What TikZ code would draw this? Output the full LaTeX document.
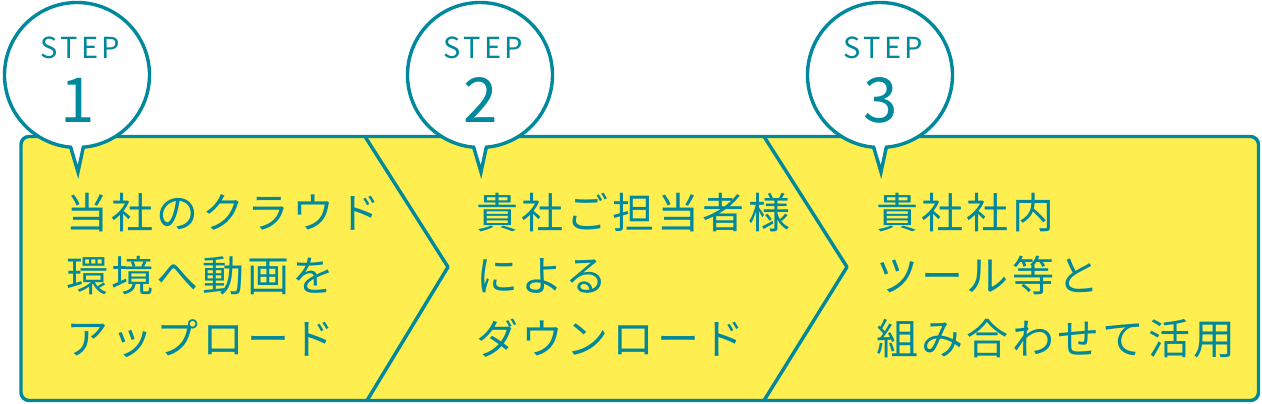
\documentclass[tikz,border=0pt]{standalone}
\usepackage{fontspec}
\usetikzlibrary{calc}
\setmainfont{Noto Sans CJK JP}
\newfontfamily\jpfont[LetterSpace=8]{Noto Sans CJK JP}
\newfontfamily\stepfont[LetterSpace=12]{Noto Sans CJK JP}
\definecolor{teal}{HTML}{00889C}
\definecolor{yel}{HTML}{FEEE50}
\tikzset{
  frame/.style={draw=teal, line width=3.4pt, fill=yel, rounded corners=8pt},
  chev/.style={draw=teal, line width=3.4pt, line join=round},
  callout/.style={draw=teal, line width=3.4pt, fill=white, line join=miter},
  steplabel/.style={text=teal, font=\stepfont\fontsize{29}{29}\selectfont, inner sep=0pt},
  stepnum/.style={text=teal, font=\fontsize{62}{62}\selectfont, inner sep=0pt},
  body/.style={text=teal, font=\jpfont\fontsize{42}{42}\selectfont, inner sep=0pt, anchor=base west}
}
\begin{document}
\begin{tikzpicture}[x=1pt, y=-1pt]
\useasboundingbox (0,0) rectangle (1262,404);
\draw[frame] (21,136.5) rectangle (1258.5,400.5);
\draw[chev] (365,136.5) -- (448,267) -- (367,400.5);
\draw[chev] (764,136.5) -- (847,267) -- (764,400.5);
\foreach \cx/\n/\name in {77/1/s1, 480/2/s2, 880/3/s3}{
  \coordinate (\name c) at (\cx,75);
  \coordinate (\name tip) at (\cx+1,172);
  \draw[callout] ($(\name c)+(85:72.5)$) arc[start angle=85, end angle=-265, radius=72.5] -- (\name tip) -- cycle;
  \node[steplabel] (\name lab) at (\cx+3,48) {STEP};
  \node[stepnum] (\name num) at (\cx+1,100) {\n};
}
\node[body] (t1a) at (66,228) {当社のクラウド};
\node[body] (t1b) at (66,291) {環境へ動画を};
\node[body] (t1c) at (66,354) {アップロード};
\node[body] (t2a) at (476,228) {貴社ご担当者様};
\node[body] (t2b) at (476,291) {による};
\node[body] (t2c) at (476,354) {ダウンロード};
\node[body] (t3a) at (876,228) {貴社社内};
\node[body] (t3b) at (876,291) {ツール等と};
\node[body] (t3c) at (876,354) {組み合わせて活用};
\end{tikzpicture}
\end{document}
